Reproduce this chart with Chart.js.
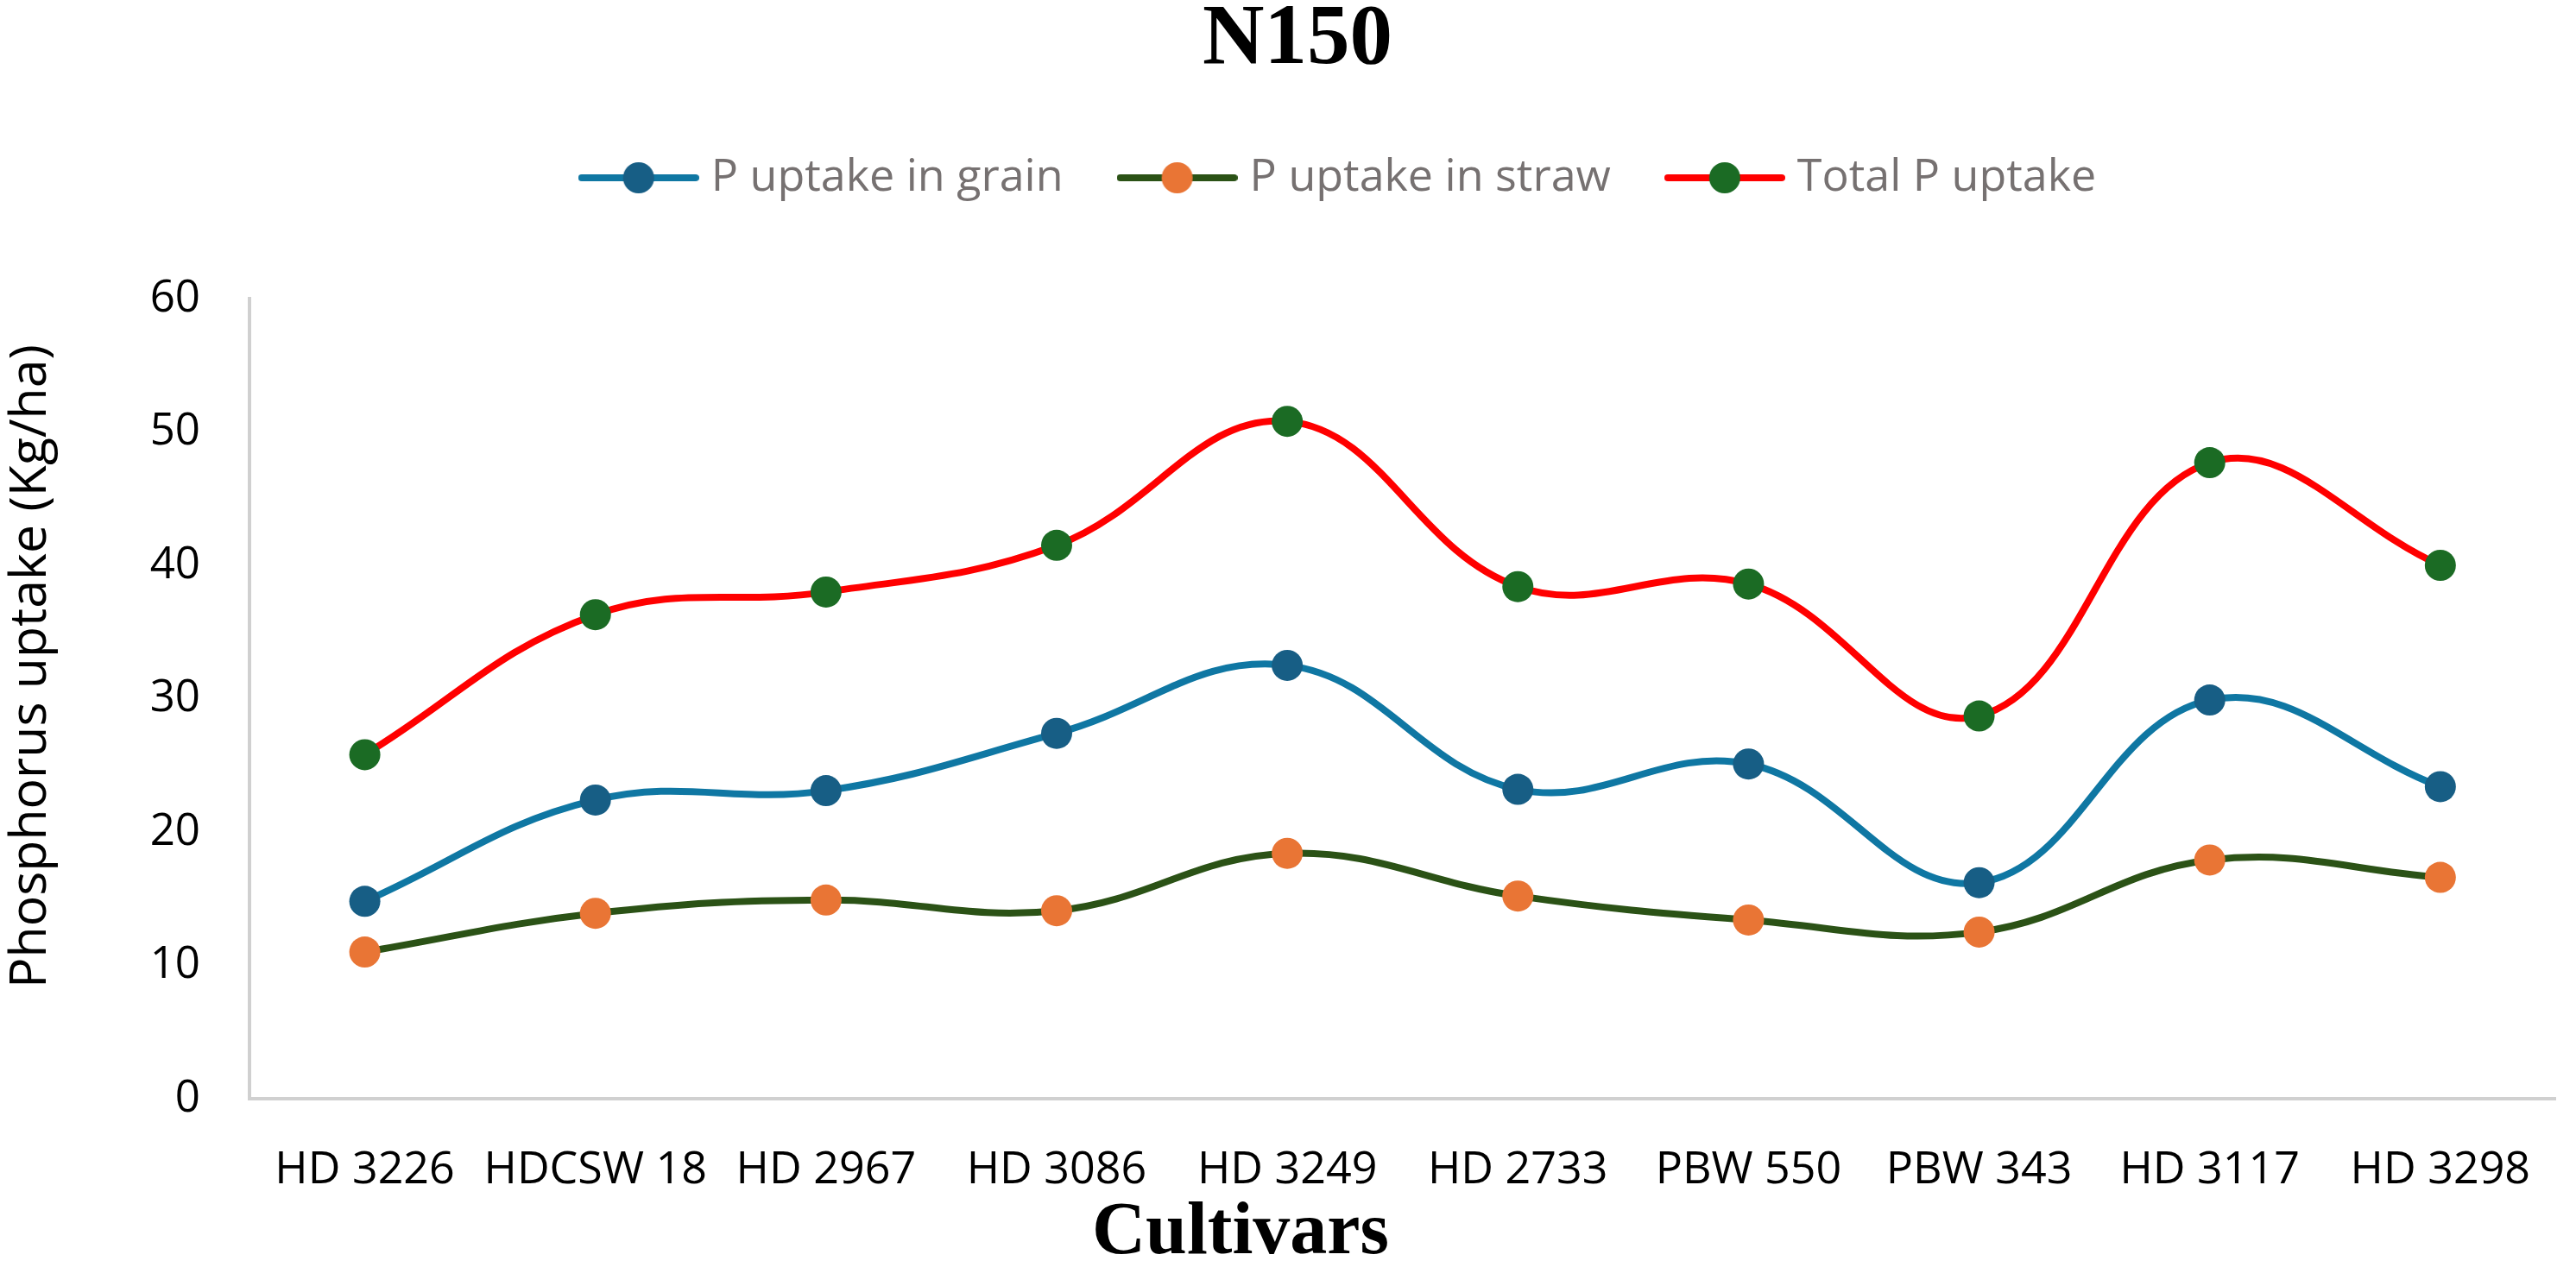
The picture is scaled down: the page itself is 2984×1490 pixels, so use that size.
<!DOCTYPE html>
<html>
<head>
<meta charset="utf-8">
<script src="https://cdn.jsdelivr.net/npm/chart.js@4.4.1/dist/chart.umd.min.js"></script>
<style>
  html, body { margin: 0; padding: 0; background: #fff; }
  #wrap { width: 2984px; height: 1490px; }
</style>
</head>
<body>
<div id="wrap"><canvas id="line-chart" width="2984" height="1490"></canvas></div>
<script>
var cultivars = ['HD 3226', 'HDCSW 18', 'HD 2967', 'HD 3086', 'HD 3249', 'HD 2733', 'PBW 550', 'PBW 343', 'HD 3117', 'HD 3298'];
var grainP = [14.8, 22.4, 23.1, 27.4, 32.5, 23.2, 25.1, 16.2, 29.9, 23.4];
var strawP = [11.0, 13.9, 14.9, 14.1, 18.4, 15.2, 13.4, 12.5, 17.9, 16.6];
var totalP = [25.8, 36.3, 38.0, 41.5, 50.8, 38.4, 38.6, 28.7, 47.7, 40.0];
var yTicks = [0, 10, 20, 30, 40, 50, 60];

// legend symbol: short line with a dot on it, like the Excel legend
function legendIcon(lineColor, dotColor) {
  var c = document.createElement('canvas');
  c.width = 140;
  c.height = 40;
  var g = c.getContext('2d');
  g.strokeStyle = lineColor;
  g.lineWidth = 8;
  g.lineCap = 'round';
  g.beginPath();
  g.moveTo(4, 20);
  g.lineTo(136, 20);
  g.stroke();
  g.fillStyle = dotColor;
  g.beginPath();
  g.arc(70, 20, 18, 0, Math.PI * 2);
  g.fill();
  return c;
}

// the titles are not centred on the plot in the original, so draw them here
var freeTitles = {
  id: 'freeTitles',
  afterDraw: function(chart) {
    var ctx = chart.ctx;
    ctx.save();
    ctx.fillStyle = '#000';
    ctx.textAlign = 'center';
    ctx.textBaseline = 'alphabetic';
    ctx.font = 'bold 99px "Liberation Serif"';
    ctx.fillText('N150', 1503, 73);
    ctx.textBaseline = 'middle';
    ctx.font = 'bold 86px "Liberation Serif"';
    ctx.fillText('Cultivars', 1437, 1430);
    ctx.translate(36, 772);
    ctx.rotate(-Math.PI / 2);
    ctx.font = '59px "Open Sans"';
    ctx.fillText('Phosphorus uptake (Kg/ha)', 0, 0);
    ctx.restore();
  }
};

new Chart(document.getElementById('line-chart'), {
  type: 'line',
  data: {
    labels: cultivars,
    datasets: [
      {
        label: 'P uptake in grain',
        data: grainP,
        borderColor: '#0f77a3',
        backgroundColor: '#175e85',
        pointBackgroundColor: '#175e85',
        icon: legendIcon('#0f77a3', '#175e85')
      },
      {
        label: 'P uptake in straw',
        data: strawP,
        borderColor: '#2b5216',
        backgroundColor: '#e97535',
        pointBackgroundColor: '#e97535',
        icon: legendIcon('#2b5216', '#e97535')
      },
      {
        label: 'Total P uptake',
        data: totalP,
        borderColor: '#ff0000',
        backgroundColor: '#1b6b24',
        pointBackgroundColor: '#1b6b24',
        icon: legendIcon('#ff0000', '#1b6b24')
      }
    ]
  },
  options: {
    responsive: false,
    devicePixelRatio: 1,
    animation: false,
    // left padding pushes the centred legend right, as in the original
    layout: { padding: { top: 106, left: 132, right: 6, bottom: 0 } },
    elements: {
      line: { borderWidth: 8, tension: 0.4, capBezierPoints: false },
      point: { radius: 18, borderWidth: 0, hoverRadius: 18 }
    },
    plugins: {
      title: { display: false },
      legend: {
        position: 'top',
        labels: {
          usePointStyle: true,
          pointStyleWidth: 116,
          padding: 74,
          color: '#767171',
          font: { family: 'Open Sans', size: 52 },
          generateLabels: function(chart) {
            return chart.data.datasets.map(function(ds, i) {
              return {
                text: ds.label,
                pointStyle: ds.icon,
                fillStyle: ds.backgroundColor,
                strokeStyle: ds.borderColor,
                fontColor: '#767171',
                lineWidth: 0,
                hidden: false,
                datasetIndex: i
              };
            });
          }
        }
      },
      // spacer between the legend and the plot
      subtitle: {
        display: true,
        text: ' ',
        weight: 900,
        font: { size: 1, lineHeight: 1 },
        padding: { top: 103, bottom: 0 }
      },
      tooltip: { enabled: false }
    },
    scales: {
      x: {
        offset: true,
        grid: { display: false, drawTicks: false },
        border: { display: true, color: '#d0d0d0', width: 4 },
        ticks: {
          color: '#000',
          padding: 52,
          maxRotation: 0,
          autoSkip: false,
          font: { family: 'Open Sans', size: 52 }
        },
        afterFit: function(scale) { scale.height = 217; }
      },
      y: {
        min: 0,
        max: 60,
        grid: { display: false, drawTicks: false },
        border: { display: true, color: '#d0d0d0', width: 4 },
        afterBuildTicks: function(scale) {
          scale.ticks = yTicks.map(function(v) { return { value: v }; });
        },
        ticks: {
          color: '#000',
          padding: 57,
          font: { family: 'Open Sans', size: 51 }
        },
        afterFit: function(scale) { scale.width = 157; }
      }
    }
  },
  plugins: [freeTitles]
});
</script>
</body>
</html>
